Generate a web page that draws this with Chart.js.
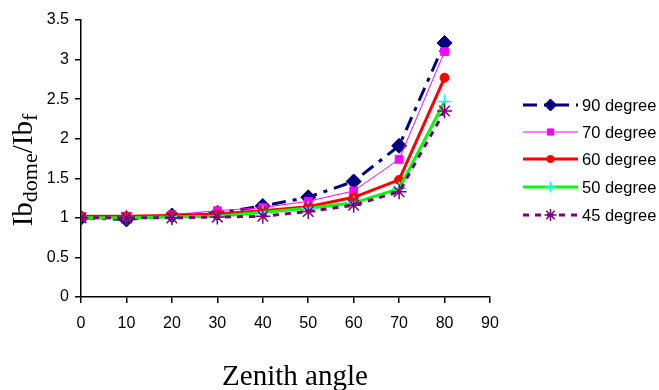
<!DOCTYPE html>
<html>
<head>
<meta charset="utf-8">
<script src="https://cdn.jsdelivr.net/npm/chart.js@4/dist/chart.umd.min.js"></script>
<style>
html,body{margin:0;padding:0;background:#fff;}
#wrap{position:relative;width:659px;height:390px;}
</style>
</head>
<body>
<div id="wrap"><canvas id="c"></canvas></div>
<script>
const angles = [0, 10, 20, 30, 40, 50, 60, 70, 80];
const deg90 = [1.00, 0.98, 1.03, 1.06, 1.15, 1.26, 1.46, 1.91, 3.21];
const deg70 = [1.02, 1.02, 1.04, 1.09, 1.13, 1.21, 1.34, 1.74, 3.10];
const deg60 = [1.02, 1.02, 1.03, 1.05, 1.09, 1.14, 1.26, 1.48, 2.77];
const deg50 = [1.00, 1.00, 1.01, 1.02, 1.07, 1.12, 1.19, 1.37, 2.47];
const deg45 = [1.00, 1.00, 1.00, 1.01, 1.02, 1.08, 1.16, 1.33, 2.35];
const seriesNames = ['90 degree', '70 degree', '60 degree', '50 degree', '45 degree'];
const xTitle = 'Zenith angle';
const yTitleParts = [['Ib', false], ['dome', true], ['/Ib', false], ['f', true]];

function pts(vals){ return vals.map((v,i)=>({x: angles[i], y: v})); }

const styles = [
  {color:'#000080', pColor:'#000080', width:3, dash:[14,7,4,7], pStyle:'rectRot', r:7.5, order:5},
  {color:'#FF00FF', pColor:'#FF00FF', width:1, dash:[], pStyle:'rect', r:5.5, order:4},
  {color:'#FF0000', pColor:'#FF0000', width:3, dash:[], pStyle:'circle', r:4.5, order:3},
  {color:'#00FF00', pColor:'#00FFFF', width:3, dash:[], pStyle:'cross', r:7, order:2},
  {color:'#800080', pColor:'#800080', width:3, dash:[6,6], pStyle:'star', r:7.5, order:1}
];
const allVals = [deg90, deg70, deg60, deg50, deg45];

const datasets = allVals.map((vals, i) => {
  const s = styles[i];
  return {
    label: seriesNames[i],
    data: pts(vals),
    borderColor: s.color,
    borderWidth: s.width,
    borderDash: s.dash,
    backgroundColor: s.pColor,
    pointStyle: s.pStyle,
    pointRadius: s.r,
    pointHoverRadius: s.r,
    pointBackgroundColor: s.pColor,
    pointBorderColor: s.pColor,
    pointBorderWidth: (s.pStyle === 'cross' || s.pStyle === 'star') ? 1.5 : 1,
    tension: 0,
    fill: false,
    order: s.order
  };
});

const titlesPlugin = {
  id: 'titles',
  afterDraw(chart) {
    const ctx = chart.ctx;
    ctx.save();
    ctx.fillStyle = '#000';
    // x title
    ctx.font = '29px "Liberation Serif", "Times New Roman", serif';
    ctx.textAlign = 'center';
    ctx.textBaseline = 'alphabetic';
    ctx.fillText(xTitle, 295, 385);
    // y title with subscripts
    const mainFont = '29px "Liberation Serif", "Times New Roman", serif';
    const subFont = '22px "Liberation Serif", "Times New Roman", serif';
    let total = 0;
    yTitleParts.forEach(p => { ctx.font = p[1] ? subFont : mainFont; total += ctx.measureText(p[0]).width; });
    ctx.translate(32, 170);
    ctx.rotate(-Math.PI / 2);
    ctx.textAlign = 'left';
    let x = -total / 2;
    yTitleParts.forEach(p => {
      ctx.font = p[1] ? subFont : mainFont;
      ctx.fillText(p[0], x, p[1] ? 5 : 0);
      x += ctx.measureText(p[0]).width;
    });
    ctx.restore();

    // legend
    ctx.save();
    const lx0 = 523, lx1 = 578, tx = 582;
    const ys = [105, 132, 159, 187, 215];
    chart.data.datasets.forEach((ds, i) => {
      const y = ys[i];
      ctx.save();
      ctx.strokeStyle = ds.borderColor;
      ctx.lineWidth = ds.borderWidth;
      ctx.setLineDash(ds.borderDash || []);
      ctx.beginPath();
      ctx.moveTo(lx0, y);
      ctx.lineTo(lx1, y);
      ctx.stroke();
      ctx.setLineDash([]);
      ctx.fillStyle = ds.pointBackgroundColor;
      ctx.strokeStyle = ds.pointBorderColor;
      ctx.lineWidth = ds.pointBorderWidth;
      Chart.helpers.drawPoint(ctx, {pointStyle: ds.pointStyle, radius: ds.pointRadius * 0.8, rotation: 0, borderWidth: ds.pointBorderWidth}, (lx0 + lx1) / 2, y);
      ctx.restore();
      ctx.fillStyle = '#000';
      ctx.font = '16.5px "Liberation Sans", Arial, sans-serif';
      ctx.textAlign = 'left';
      ctx.textBaseline = 'middle';
      ctx.fillText(ds.label, tx, y + 1);
    });
    ctx.restore();
  }
};

new Chart(document.getElementById('c'), {
  type: 'line',
  data: { datasets },
  options: {
    responsive: true,
    maintainAspectRatio: false,
    animation: false,
    events: [],
    layout: { padding: { left: 0, top: 20, right: 169, bottom: 0 } },
    plugins: { legend: { display: false }, tooltip: { enabled: false } },
    scales: {
      x: {
        type: 'linear',
        min: 0, max: 90,
        ticks: { stepSize: 10, color: '#000', padding: 11, font: { family: '"Liberation Sans", Arial, sans-serif', size: 16 }, maxRotation: 0 },
        grid: { drawOnChartArea: false, drawTicks: true, tickLength: 6, color: '#000', lineWidth: 1.5 },
        border: { display: true, color: '#000', width: 1.5 },
        afterFit(scale) { scale.height = 93; }
      },
      y: {
        type: 'linear',
        min: 0, max: 3.5,
        ticks: { stepSize: 0.5, color: '#000', padding: 6, font: { family: '"Liberation Sans", Arial, sans-serif', size: 16 }, callback: v => String(v) },
        grid: { drawOnChartArea: false, drawTicks: true, tickLength: 6, color: '#000', lineWidth: 1.5 },
        border: { display: true, color: '#000', width: 1.5 },
        afterFit(scale) { scale.width = 81; }
      }
    }
  },
  plugins: [titlesPlugin]
});
</script>
</body>
</html>
